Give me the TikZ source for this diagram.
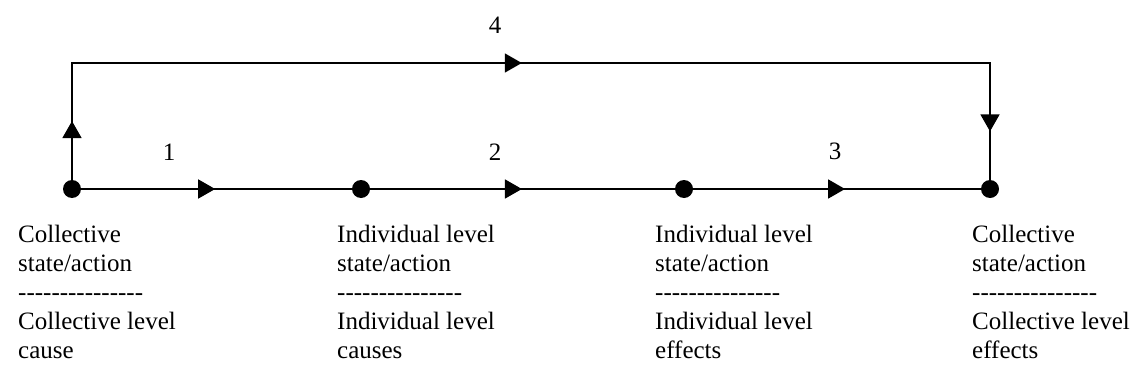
\documentclass[tikz,border=0pt]{standalone}
\usepackage{fontspec}
\setmainfont{Liberation Serif}
\usetikzlibrary{arrows.meta,decorations.markings}

% a row of separate hyphens (boxed so they are not joined into dashes)
\newcommand\hyrow{\mbox{-}\mbox{-}\mbox{-}\mbox{-}\mbox{-}\mbox{-}\mbox{-}\mbox{-}\mbox{-}\mbox{-}\mbox{-}\mbox{-}\mbox{-}\mbox{-}\mbox{-}}

\tikzset{
  headtip/.tip={Triangle[length=17pt,width=19pt]},
  dot/.style={circle, fill=black, inner sep=0pt, minimum size=18pt},
  flow/.style={line width=1.8pt, postaction={decorate},
    decoration={markings, mark=at position #1 with {\arrow{headtip}}}},
  loop/.style={line width=1.6pt, line join=miter, postaction={decorate},
    decoration={markings,
      mark=at position 0.051 with {\arrow{headtip}},
      mark=at position 0.492 with {\arrow{headtip}},
      mark=at position 0.958 with {\arrow{headtip}}}},
  txt/.style={anchor=base west, inner sep=0pt, font=\fontsize{25}{29}\selectfont},
  num/.style={inner sep=0pt, font=\fontsize{25}{29}\selectfont},
}

\begin{document}
\begin{tikzpicture}[x=1pt, y=-1pt]
  \useasboundingbox (0,0) rectangle (1139,385);

  % the four states on the main line
  \node[dot] (a) at (72,189) {};
  \node[dot] (b) at (361,189) {};
  \node[dot] (c) at (684,189) {};
  \node[dot] (d) at (990,189) {};

  % corners of the upper route
  \coordinate (ul) at (72,63);
  \coordinate (ur) at (990,63);

  % main line, step by step
  \draw[flow=0.495] (a) -- (b);
  \draw[flow=0.498] (b) -- (c);
  \draw[flow=0.528] (c) -- (d);

  % direct collective route
  \draw[loop] (a) -- (ul) -- (ur) -- (d);

  % path numbers
  \node[num] (n1) at (169,152) {1};
  \node[num] (n2) at (495,152) {2};
  \node[num] (n3) at (835,151) {3};
  \node[num] (n4) at (495,25) {4};

  % captions under the states
  \node[txt] (ta) at (18,242) {\begin{tabular}[t]{@{}l@{}}Collective\\state/action\\\hyrow\\Collective level\\cause\end{tabular}};
  \node[txt] (tb) at (337,242) {\begin{tabular}[t]{@{}l@{}}Individual level\\state/action\\\hyrow\\Individual level\\causes\end{tabular}};
  \node[txt] (tc) at (655,242) {\begin{tabular}[t]{@{}l@{}}Individual level\\state/action\\\hyrow\\Individual level\\effects\end{tabular}};
  \node[txt] (td) at (972,242) {\begin{tabular}[t]{@{}l@{}}Collective\\state/action\\\hyrow\\Collective level\\effects\end{tabular}};
\end{tikzpicture}
\end{document}
